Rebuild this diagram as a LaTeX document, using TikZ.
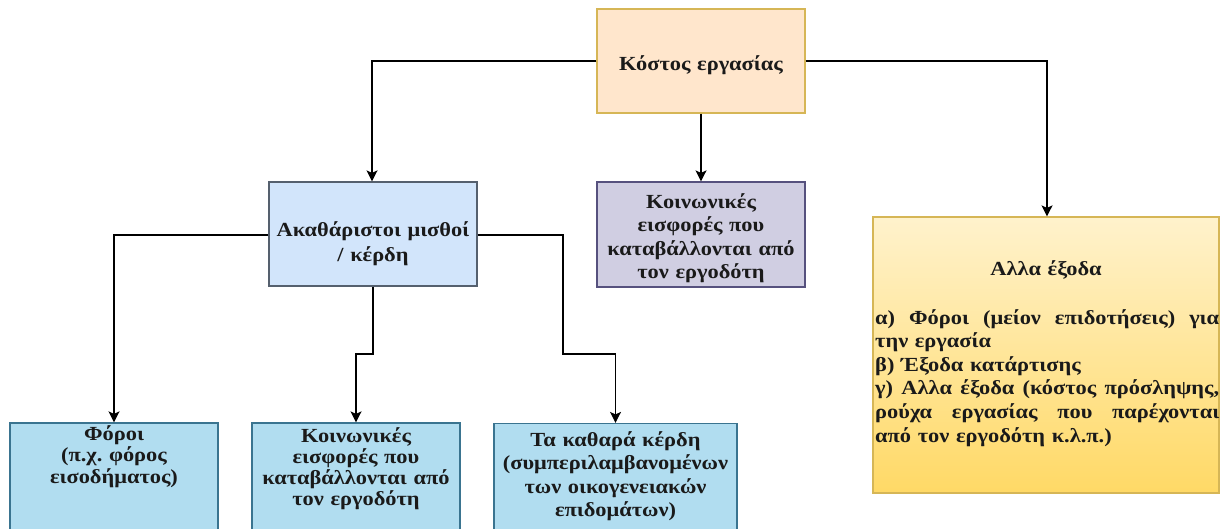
\documentclass[tikz,border=0pt]{standalone}
\usepackage{fontspec}
\setmainfont[FakeStretch=1.12]{Liberation Serif}
\usetikzlibrary{arrows.meta}
\frenchspacing
\definecolor{txt}{HTML}{1A1A1A}
\definecolor{topfill}{HTML}{FFE6CC}
\definecolor{topdraw}{HTML}{D6B656}
\definecolor{grossfill}{HTML}{D2E5FB}
\definecolor{grossdraw}{HTML}{55606E}
\definecolor{purfill}{HTML}{D0CEE2}
\definecolor{purdraw}{HTML}{56517E}
\definecolor{botfill}{HTML}{B1DDF0}
\definecolor{botdraw}{HTML}{3A7490}
\definecolor{yeltop}{HTML}{FFF2CC}
\definecolor{yelbot}{HTML}{FFD966}
\definecolor{yeldraw}{HTML}{D6B656}
\newcommand{\jline}[1]{\leavevmode\hbox to 344pt{#1}}
\begin{document}
\begin{tikzpicture}[x=1pt,y=-1pt,
  box/.style={draw, line width=1.2pt, minimum width=208pt, minimum height=104pt, inner sep=0pt},
  botbox/.style={draw=botdraw, line width=1.2pt, fill=botfill, minimum height=117pt, inner sep=0pt},
  lbl/.style={text=txt, inner sep=0pt, align=center, text width=#1, anchor=base},
  fnt/.style={font=\fontsize{20}{#1}\selectfont\bfseries\frenchspacing},
  conn/.style={line width=1.3pt, draw=black, -{Stealth[length=11pt,width=11pt,inset=2.5pt]}},
]
\useasboundingbox (0,0) rectangle (1220,528);
\clip (0,0) rectangle (1220,528);

% boxes
\node[box, fill=topfill, draw=topdraw] (top) at (701,61) {};
\node[box, fill=grossfill, draw=grossdraw] (gross) at (373,234) {};
\node[box, fill=purfill, draw=purdraw, minimum height=105pt] (soc) at (701,234.5) {};
\node[draw=yeldraw, line width=1.2pt, top color=yeltop, bottom color=yelbot,
  minimum width=346pt, minimum height=276pt, inner sep=0pt] (other) at (1046,355) {};
\node[botbox, minimum width=208pt] (b1) at (114,481.5) {};
\node[botbox, minimum width=208pt] (b2) at (356,481.5) {};
\node[botbox, minimum width=243pt] (b3) at (615.5,482) {};

% texts
\node[lbl=208pt, fnt=24] (toptext) at (701,70) {Κόστος εργασίας};
\node[lbl=208pt, fnt=25] (grosstext) at (373,236) {Ακαθάριστοι μισθοί\\/ κέρδη};
\node[lbl=208pt, fnt=23.5] (soctext) at (701,208) {Κοινωνικές\\εισφορές που\\καταβάλλονται από\\τον εργοδότη};
\node[lbl=346pt, fnt=24] (othertitle) at (1046,275) {Αλλα έξοδα};
\node[fnt=23.6, text=txt, inner sep=0pt, align=left, text width=344pt, anchor=base west] (othertext) at (875,324)
 {\jline{α)\hfill Φόροι\hfill (μείον\hfill επιδοτήσεις)\hfill για}\\
  την εργασία\\
  β) Έξοδα κατάρτισης\\
  \jline{γ)\hfill Αλλα\hfill έξοδα\hfill (κόστος\hfill πρόσληψης,}\\
  \jline{ρούχα\hfill εργασίας\hfill που\hfill παρέχονται}\\
  από τον εργοδότη κ.λ.π.)};
\node[lbl=208pt, fnt=21.5] (b1text) at (114,440) {Φόροι\\(π.χ. φόρος\\εισοδήματος)};
\node[lbl=208pt, fnt=21] (b2text) at (356,442) {Κοινωνικές\\εισφορές που\\καταβάλλονται από\\τον εργοδότη};
\node[lbl=243pt, fnt=23.5] (b3text) at (615.5,446) {Τα καθαρά κέρδη\\(συμπεριλαμβανομένων\\των οικογενειακών\\επιδομάτων)};

% connectors
\coordinate (j1) at (372,61);
\coordinate (j2) at (1047,61);
\coordinate (j3) at (114,235);
\coordinate (j4) at (563,235);
\coordinate (j5) at (373,354);
\coordinate (j6) at (356,354);
\coordinate (j7) at (563,354);
\coordinate (j8) at (615.5,354);

\draw[conn] (top.west) -- (j1) -- (j1 |- gross.north);
\draw[conn] (top.south) -- (soc.north);
\draw[conn] (top.east) -- (j2) -- (j2 |- other.north);
\draw[conn] (gross.west |- j3) -- (j3) -- (b1.north);
\draw[conn] (gross.south) -- (j5) -- (j6) -- (b2.north);
\draw[conn] (gross.east |- j4) -- (j4) -- (j7) -- (j8) -- (b3.north);
\end{tikzpicture}
\end{document}
